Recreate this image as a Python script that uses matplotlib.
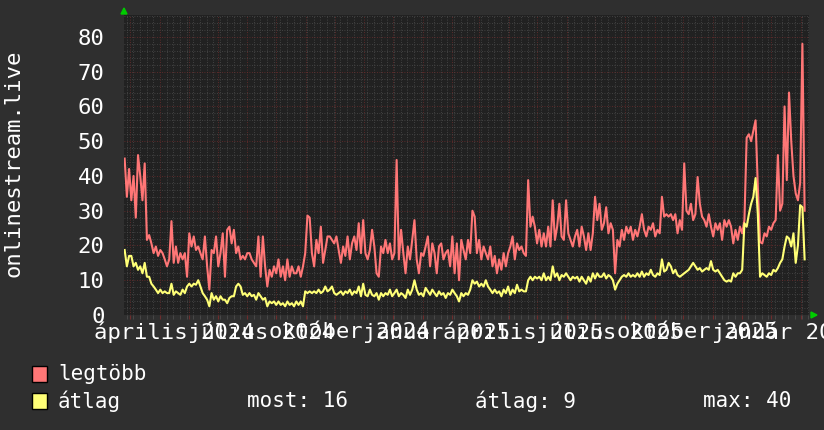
import numpy as np
import pandas as pd
import matplotlib
matplotlib.use("Agg")
import matplotlib.pyplot as plt
import matplotlib.dates as mdates
from matplotlib.patches import Rectangle, Polygon

# legtöbb (max) series
legtobb = [
    45, 34, 42, 33, 40, 28, 46, 40, 33, 43.6,
    21.6, 23, 20.6, 17.8, 19.7, 17, 18.7, 17.8, 16, 14,
    16, 27, 15, 19.7, 15, 17.8, 16, 17.8, 11, 23.5,
    19.7, 22.6, 18.7, 19.7, 17.8, 16, 22.6, 14, 7.3, 18.7,
    17.8, 22.6, 14, 17.8, 23.5, 11, 24.5, 25.4, 20.6, 24.5,
    17.8, 19.7, 16, 17, 16, 17.8, 17.8, 16, 15, 14,
    22.6, 11, 22.6, 14, 8.2, 13, 11, 14, 12, 16,
    11, 14, 10, 16, 11, 14, 12, 12, 14, 11,
    14, 17.8, 28.6, 28, 17.8, 14, 21.6, 17.8, 25.4, 15,
    18.7, 22.6, 22.6, 21.6, 20.6, 22.6, 18.7, 15, 19.7, 17,
    22.6, 16, 20.6, 22.6, 18.7, 26.4, 17.8, 27.3, 17.8, 16,
    18.7, 24.5, 19.7, 12, 11, 19.7, 17.8, 21.6, 17.8, 20.6,
    16, 17.8, 44.6, 16, 24.5, 17.8, 12, 19.7, 16, 21.6,
    27.3, 16, 12, 17.8, 17, 19.7, 22.6, 14, 20.6, 17.8,
    12, 19.7, 20.6, 16, 17.8, 18.7, 14, 22.6, 12, 20.6,
    10, 21.6, 18.7, 16, 21.6, 17.8, 30, 28.3, 17.8, 21.6,
    16, 19.7, 17.8, 16, 19.7, 14, 17, 12, 16, 13,
    17.8, 14, 17.8, 19.7, 22.6, 16, 20.6, 18.7, 19.7, 17.8,
    17, 38.8, 25.4, 28.3, 25.4, 20.6, 24.5, 19.7, 23.5, 19.7,
    25.4, 19.7, 33, 21.6, 25.4, 32, 22.6, 21.6, 33, 23.5,
    21.6, 19.7, 22.6, 24.5, 19.7, 25.4, 22.6, 18.7, 23.5, 18.7,
    23.5, 34, 27.3, 32, 24.5, 26.4, 31, 23.5, 26.4, 24.5,
    12, 21.6, 19.7, 24.5, 21.6, 25.4, 23.5, 25.4, 21.6, 24.5,
    22.6, 25.4, 29, 24.5, 22.6, 25.4, 24.5, 26.4, 22.6, 24.5,
    23.5, 34, 28.3, 29, 28.3, 29, 27.3, 29, 23.5, 27.3,
    24.5, 43.6, 30, 29, 32, 27.3, 29, 39.7, 32, 28.3,
    27.3, 25.4, 29, 25.4, 22.6, 26.4, 24.5, 26.4, 21.6, 27.3,
    25.4, 27.3, 25.4, 20.6, 24.5, 21.6, 25.4, 23.5, 27.3, 51,
    52, 50, 53, 56, 37, 21, 20.6, 23.5, 22.6, 25.4,
    24.5, 26.4, 27.3, 46, 30, 32, 60, 38.8, 64, 50,
    40, 35, 33, 38, 78, 30,
]

# átlag (average) series
atlag = [
    18.7, 14, 17, 17, 14, 15, 13, 14, 12, 15,
    11, 11, 9, 8.2, 7.3, 6.3, 7.3, 6.3, 6.8, 6.3,
    6.3, 9, 5.8, 6.8, 6.3, 5.8, 7.3, 6.3, 8.2, 9,
    8.2, 9, 8.7, 10, 8.2, 6.3, 5.4, 4.4, 2.5, 6.3,
    4.4, 5.4, 3.9, 5.4, 4.4, 4.4, 3.4, 4.9, 5.4, 5.4,
    8.2, 9, 8.2, 5.8, 6.3, 5.4, 6.3, 5.4, 5.8, 4.4,
    6.3, 5.4, 4.4, 4.9, 2.5, 3.9, 3.4, 3.9, 2.9, 3.9,
    2.9, 3.4, 2.5, 3.9, 2.9, 3.4, 2.5, 3.9, 2.9, 3.9,
    2.5, 6.8, 6.3, 6.8, 6.3, 6.8, 6.3, 7.3, 6.3, 6.8,
    8.2, 6.8, 7.3, 8.2, 6.3, 5.8, 6.3, 6.8, 5.8, 6.8,
    6.3, 7.3, 5.8, 6.8, 6.3, 8.2, 5.4, 9, 5.8, 5.4,
    7.3, 5.8, 5.4, 6.3, 4.4, 6.3, 5.4, 6.3, 5.8, 7.3,
    5.4, 6.3, 7.3, 5.4, 6.3, 5.8, 4.9, 7.3, 5.8, 7.3,
    10, 7.3, 5.8, 6.3, 5.4, 7.8, 6.8, 5.8, 7.3, 6.3,
    5.4, 6.8, 5.8, 6.3, 4.9, 6.3, 5.8, 7.3, 6.3, 5.4,
    3.9, 6.3, 5.4, 6.3, 5.8, 7.3, 10, 9, 9.6, 8.2,
    9, 8.2, 10, 8.2, 7.3, 6.3, 7.3, 6.3, 6.8, 5.4,
    7.3, 6.3, 8.2, 5.8, 7.3, 6.3, 8.7, 6.8, 7.3, 6.8,
    6.8, 10, 11, 10, 11, 10.5, 11, 10, 12, 10,
    11, 10, 14, 11, 12, 10, 11.5, 11, 12, 11,
    10, 11, 10.5, 11, 9.6, 11, 10, 9, 11, 9.6,
    12, 10.5, 12, 11, 11, 12, 10.5, 11.5, 11, 10,
    7.3, 9, 10, 11, 11.5, 11, 12, 11, 11.5, 11,
    12, 11, 12.5, 11, 12, 11.5, 13, 11.5, 11, 12,
    11.5, 16, 12.5, 13, 15, 14, 12, 13, 11.5, 11,
    11.5, 12, 12.5, 13, 14, 15, 14, 13, 13.5, 12.5,
    13, 13.5, 13, 15.5, 13, 12.5, 13, 12, 11, 10,
    9.6, 10, 9.6, 12, 11, 12, 12, 13, 26.4, 25.4,
    29, 32, 34, 39.4, 29, 11, 12, 11.5, 11, 12,
    11.5, 13, 12.5, 13.5, 15, 16, 19.7, 22.6, 22, 19.7,
    23.5, 15, 20, 31.6, 31, 16,
]

first_day, last_day = "2024-02-24", "2026-02-05"
label_days = ["2024-04-16", "2024-07-16", "2024-10-16", "2025-01-16",
              "2025-04-16", "2025-07-16", "2025-10-16", "2026-01-16"]
label_texts = ["április 2024", "július 2024", "október 2024", "január 2025",
               "április 2025", "július 2025", "október 2025", "január 2026"]
y_ticks = [0, 10, 20, 30, 40, 50, 60, 70, 80]
stats = ["most: 16", "átlag: 9", "max: 40"]

days = pd.date_range(first_day, last_day, periods=len(legtobb))

mono = "DejaVu Sans Mono"
bg = "#2f2f2f"
fig = plt.figure(figsize=(8.24, 4.30), dpi=100, facecolor=bg)
ax = fig.add_axes([124/824, 1-315/430, 685/824, 300/430])
ax.set_facecolor("#212121")

ax.plot(days, legtobb, color="#ff7676", lw=1.5, zorder=3)
ax.plot(days, atlag, color="#ffff77", lw=1.5, zorder=4)

ax.set_xlim(pd.Timestamp("2024-02-23 08:00"), pd.Timestamp("2026-02-09 14:00"))
ax.set_ylim(0, 86.3)

# grid: weekly + monthly, every 2 and every 10
ax.xaxis.set_major_locator(mdates.MonthLocator())
ax.xaxis.set_minor_locator(mdates.WeekdayLocator(byweekday=mdates.MO))
ax.set_yticks(y_ticks)
ax.set_yticks(np.arange(0, 87, 2), minor=True)
ax.grid(which="minor", color="#4c4c4c", lw=0.6, ls=(0, (1, 2)), zorder=1)
ax.grid(which="major", color="#6e2c2c", lw=0.6, ls=(0, (1, 2)), zorder=2)
ax.tick_params(axis="x", which="both", length=3, color="#4c4c4c", labelbottom=False)
ax.tick_params(axis="x", which="major", color="#6e2c2c")
ax.tick_params(axis="y", which="both", length=0, pad=14,
               labelsize=16, labelcolor="white")
for lab in ax.get_yticklabels():
    lab.set_family(mono)
for s in ax.spines.values():
    s.set_visible(False)

# month labels (mid-month, overlapping like the original)
sec = ax.secondary_xaxis("bottom")
sec.set_xticks(pd.to_datetime(label_days), labels=label_texts)
sec.tick_params(length=0, pad=5, labelsize=16, labelcolor="white")
for lab in sec.get_xticklabels():
    lab.set_family(mono)
for s in sec.spines.values():
    s.set_visible(False)

fig.text(14/824, 1-163/430, "onlinestream.live", rotation=90, color="white",
         family=mono, fontsize=16, ha="center", va="center")

# green arrows
fig.patches.append(Polygon([[121/824, 1-14/430], [127/824, 1-14/430], [124/824, 1-8/430]],
                           closed=True, color="#00cc00", transform=fig.transFigure))
fig.patches.append(Polygon([[811/824, 1-312/430], [811/824, 1-318/430], [817/824, 1-315/430]],
                           closed=True, color="#00cc00", transform=fig.transFigure))

# legend
for row, (name, col) in enumerate([("legtöbb", "#ff7676"), ("átlag", "#ffff77")]):
    yc = 374 + row * 27
    fig.patches.append(Rectangle((32/824, 1-(yc+8)/430), 15/824, 16/430,
                                 facecolor=col, edgecolor="black", lw=1,
                                 transform=fig.transFigure))
    fig.text(58/824, 1-yc/430, name, color="white", family=mono, fontsize=15,
             va="center", ha="left")
for x0, s in zip([247, 475, 703], stats):
    fig.text(x0/824, 1-401/430, s, color="white", family=mono, fontsize=15,
             va="center", ha="left")

fig.savefig("out.png", dpi=100, facecolor=bg)
